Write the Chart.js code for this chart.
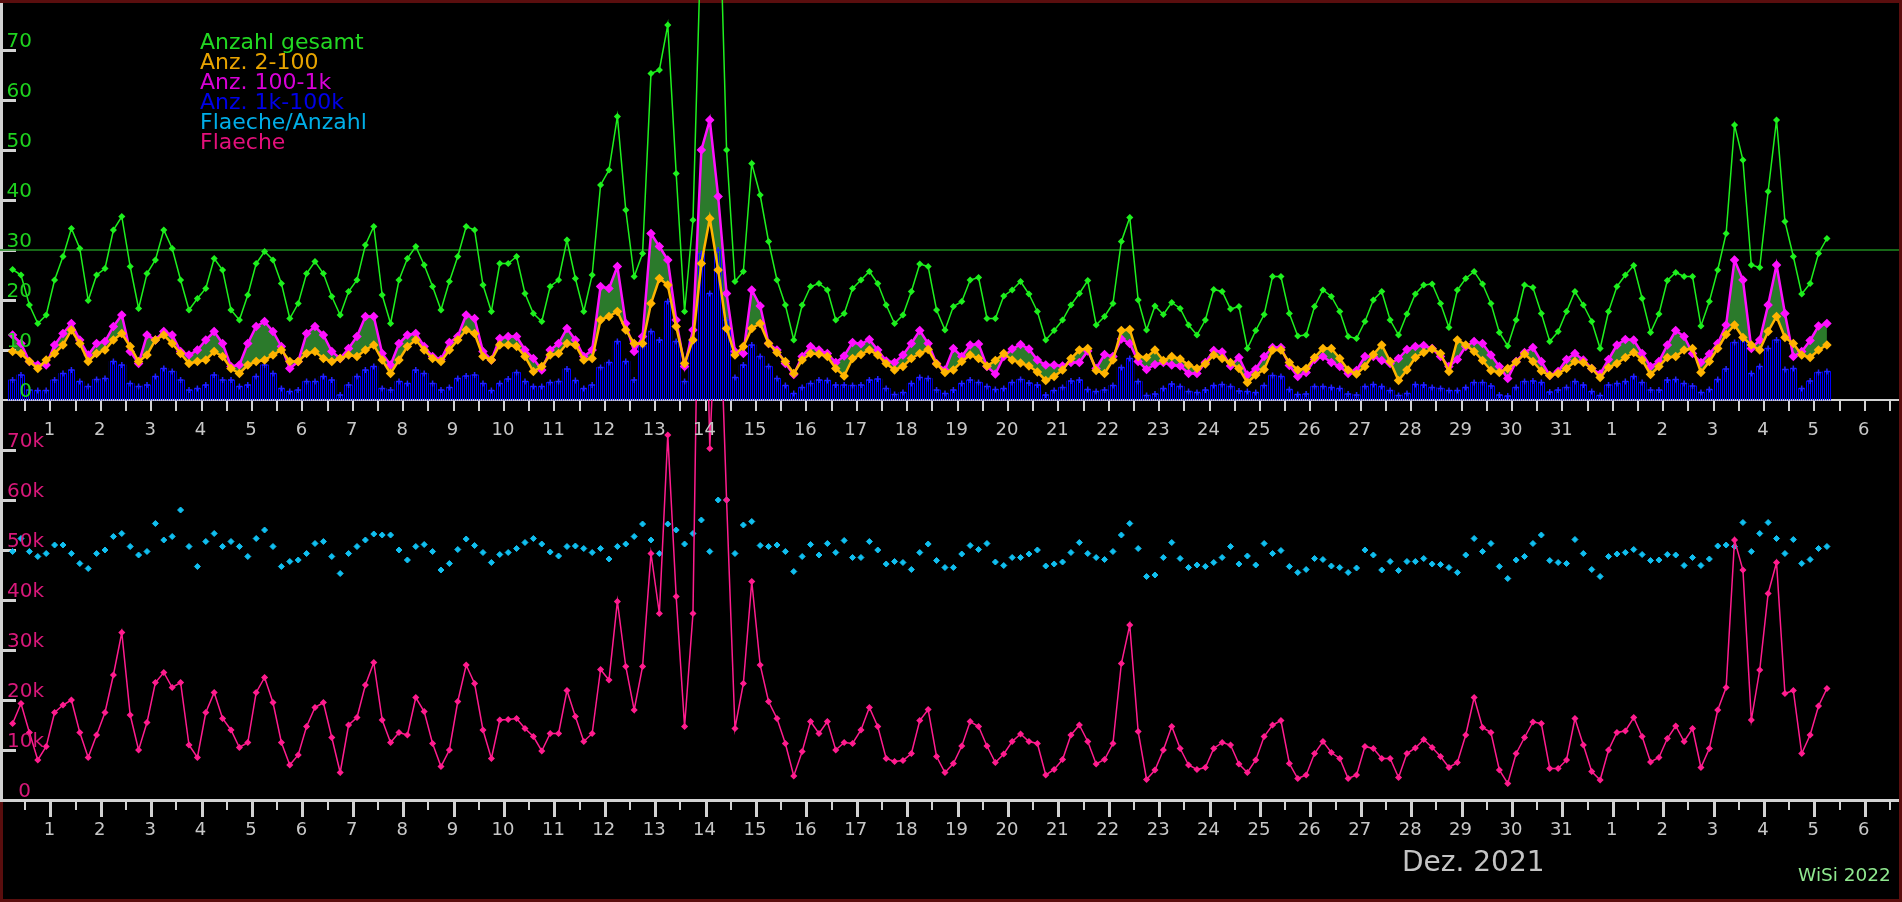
<!DOCTYPE html>
<html>
<head>
<meta charset="utf-8">
<title>Anzahl / Flaeche Dez. 2021</title>
<script src="https://cdn.jsdelivr.net/npm/chart.js@4.4.1/dist/chart.umd.min.js"></script>
<style>
    html, body { margin: 0; padding: 0; background: #000; }
    #wrap { position: relative; width: 1902px; height: 902px; background: #000; overflow: hidden; }
    #wrap canvas { position: absolute; left: 0; top: 0; }
    .txt { position: absolute; font-family: "DejaVu Sans", sans-serif; font-weight: normal; white-space: nowrap; }
    #legend { left: 200px; top: 32px; font-size: 22px; line-height: 20px; }
    #month { left: 1402px; top: 847px; font-size: 28px; line-height: 30px; color: #c4c4c4; }
    #sig { left: 1798px; top: 865px; font-size: 18.5px; line-height: 20px; color: #8fe88f; }
</style>
</head>
<body>
<div id="wrap">
    <canvas id="chart"></canvas>
    <div id="legend" class="txt">
        <div style="color:#22d822">Anzahl gesamt</div>
        <div style="color:#e8a400">Anz. 2-100</div>
        <div style="color:#d800d8">Anz. 100-1k</div>
        <div style="color:#0000e8">Anz. 1k-100k</div>
        <div style="color:#00aee6">Flaeche/Anzahl</div>
        <div style="color:#e4107a">Flaeche</div>
    </div>
    <div id="month" class="txt">Dez. 2021</div>
    <div id="sig" class="txt">WiSi 2022</div>
</div>
<script>
// samples every 4 hours, x in days (label "1" = 1. Dez.)
const T0 = 0.25;
const STEP = 1 / 6;
const X_MAX = 37.68;
const REF_LINE = 30;

const dayLabels = ['1','2','3','4','5','6','7','8','9','10','11','12','13','14','15','16','17','18','19','20',
    '21','22','23','24','25','26','27','28','29','30','31','1','2','3','4','5','6'];
const topTicks = [0, 10, 20, 30, 40, 50, 60, 70];
const bottomTicks = [0, 10, 20, 30, 40, 50, 60, 70];   // thousands

const anzGesamt = [
    26.1, 25, 19, 15.3, 17, 24, 28.7, 34.3, 30.3, 19.9, 25, 26.3, 34, 36.7, 26.7, 18.3, 25.3, 28, 34, 30.3,
    24, 18, 20.3, 22.3, 28.3, 26, 18, 16, 21, 27.3, 29.7, 28, 23.3, 16.3, 19.3, 25.3, 27.7, 25.3, 20.7, 17,
    21.7, 24, 31, 34.7, 21, 15.3, 24, 28.3, 30.7,
    27, 22.7, 18, 23.7, 28.7, 34.7, 34, 23, 17.7, 27.3, 27.3, 28.7, 21.3, 17.3, 15.7, 22.7, 24, 32, 24.3, 17.7,
    25, 43, 46, 56.7, 38, 24.7, 29.3, 65.3, 66, 75, 45.3, 17.7, 36, 95, 115, 109, 50, 23.7, 25.7, 47.3,
    41, 31.7, 24, 19, 12, 19, 22.7, 23.3, 22, 16, 17.3, 22.3, 24, 25.7, 23.3, 19, 15.3, 17,
    21.7, 27.2, 26.7, 18, 14, 18.7, 19.7, 24, 24.5, 16.3, 16.3, 20.8, 22, 23.7, 21.2, 17.7, 12, 13.9, 16, 19,
    21.3, 23.9, 15, 16.7, 19.3, 31.7, 36.5, 20, 14, 18.8, 17.1, 19.5, 18.3, 15, 13, 16, 22.1, 21.7, 18.2, 18.7,
    10.3, 13.9, 17.1, 24.7, 24.7, 17.3, 12.8, 13, 18.7, 22, 20.7, 17.7, 12.7, 12.3, 15.7, 20, 21.7, 16, 13,
    17.2, 21.2, 23, 23.2, 19.3, 14.5, 22, 24.3, 25.7, 23.2, 19.3, 13.5, 10.8, 16, 23, 22.5, 17.3, 11.7, 13.7, 17.7,
    21.7, 19, 15.7, 10.3, 17.7, 22.7, 25, 26.9, 20.3, 13.5, 17.2, 23.9, 25.5, 24.7, 24.7, 14.8, 19.7, 26, 33.3, 55,
    48, 27, 26.5, 41.7, 56, 35.7, 28.7, 21.2, 23.3, 29.3, 32.3
];
const anz2bis100 = [
    9.7, 9.3, 7.7, 6.3, 8, 9.3, 11, 14, 11.3, 7.7, 9.3, 10, 12, 13.3, 10.7, 7.7, 9, 12, 13, 11.3,
    9.3, 7.3, 7.7, 8, 9.7, 8.7, 6.3, 5.3, 7, 7.7, 8, 9, 10, 7.7, 7.7, 9.3, 9.7, 8.3, 7.7, 8.3,
    9, 8.7, 10, 11, 8, 5.3, 8, 10.7, 12,
    10, 8.3, 7.7, 10, 12, 14, 13.3, 8.7, 8, 11, 11, 10.7, 8.7, 5.7, 6.7, 9, 9.3, 11.3, 11, 8,
    8.3, 16, 16.7, 17.7, 14, 11.3, 11.3, 19.3, 24.3, 23, 14.7, 7.3, 12, 27.3, 36.3, 26, 14.3, 9, 10.7, 14.3,
    15.3, 11.3, 9.5, 7.7, 5.3, 8, 9.3, 9.2, 8.7, 6.3, 4.8, 8.3, 9.1, 10, 9, 7.3, 6, 6.7,
    8.3, 9.3, 10.1, 7.2, 5.5, 6, 7.7, 9, 8.3, 6.8, 7.9, 9.3, 8, 7.4, 6.8, 5.6, 3.9, 4.7, 6, 8.3,
    10, 10.3, 5.9, 5.3, 8, 13.9, 14.1, 8.7, 8.5, 10, 7.9, 8.7, 8.2, 7, 6.3, 7.2, 9, 8.3, 7.5, 6.3,
    3.5, 5, 6.1, 10, 10, 7.5, 6, 6.3, 8.5, 10.3, 10.3, 8.3, 6, 5.2, 6.7, 9.1, 11, 7.7, 3.9,
    6, 8.5, 9.5, 10.2, 9.3, 5.7, 12, 11, 9.7, 7.9, 5.9, 5.5, 6.3, 7.6, 9.2, 7.7, 5.8, 4.9, 5.3, 6.3,
    7.7, 7.5, 6.3, 4.5, 6.5, 7.3, 8.5, 9.5, 8, 5.1, 6.7, 8.5, 8.7, 10, 10.3, 5.5, 7.7, 10.3, 13.1, 15,
    12.5, 11, 10, 13.7, 16.7, 12.5, 11.3, 9, 8.5, 10, 11
];
const anz100bis1k = [
    13, 11.3, 7.7, 7, 7, 11, 13.3, 15.3, 12, 9, 11.3, 11.7, 14.7, 17, 9.7, 7.3, 13, 12, 13.7, 13,
    9.7, 9, 10, 12, 13.7, 11.3, 6.7, 7, 11.3, 14.7, 15.7, 13.7, 10.7, 6.3, 7.7, 13.3, 14.7, 13, 9.7, 8.3,
    10.3, 12.7, 16.7, 16.7, 9.3, 7, 11.3, 13, 13.3,
    10.7, 8.7, 8.1, 11.5, 12.7, 17, 16.3, 9.7, 8, 12.3, 12.7, 12.7, 10, 8.3, 6, 10, 11.3, 14.3, 12, 8.7,
    10, 22.7, 22.3, 26.7, 15.3, 9.7, 12.7, 33.3, 30.7, 28, 16, 6.7, 14, 50, 56, 40.7, 21.3, 9.7, 9.3, 22,
    18.8, 11.3, 10, 7.3, 5.1, 8.7, 10.7, 10, 9.3, 7.5, 8.8, 11.5, 11.2, 12.1, 10, 7.8, 7.5, 9,
    11.3, 13.9, 11.3, 7.3, 6, 10.3, 8.7, 11, 11.2, 6.7, 5.2, 8.7, 10.2, 11.1, 10.2, 8, 7, 7, 6.8, 7.5,
    7.5, 9.8, 6.3, 9.1, 8.7, 12.2, 11.3, 7.7, 6.1, 7.1, 7.5, 7, 6.8, 5.3, 5.3, 7.5, 9.9, 9.6, 6.8, 8.5,
    5, 6.2, 8.7, 10.5, 10.5, 6.9, 4.7, 5.5, 8.1, 8.7, 7.5, 6.7, 5.3, 5.9, 8.7, 8.7, 7.9, 7.3, 8.3,
    10.1, 10.7, 10.9, 10.3, 8.7, 6.7, 8.1, 10.7, 11.7, 11.3, 9, 6.7, 4.3, 7.7, 9.5, 10.5, 7.7, 4.9, 5.7, 8.1,
    9.3, 8, 6.3, 5.2, 8.1, 11, 12.1, 12, 9.3, 6.7, 7.7, 11, 13.9, 12.7, 9.3, 7.5, 9.2, 11.3, 15, 28,
    24, 10.3, 12, 19, 27, 17.3, 8.7, 9.7, 11.9, 14.8, 15.3
];
const anz1kbis100k = [
    4, 5, 2, 1.9, 1.9, 4, 5.3, 6, 3.7, 2.7, 4.1, 4.3, 7.7, 7, 3.3, 2.7, 3, 4.7, 6.3, 5.7,
    4, 2, 2.3, 3, 5, 4, 4, 2.7, 3, 4.7, 7, 5.3, 2.3, 1.7, 2, 3.7, 3.7, 4.7, 4, 1,
    3, 4.7, 6, 6.7, 2.3, 2, 3.7, 3.3, 6,
    5.3, 3.3, 2, 2.5, 4.3, 4.8, 5, 3.3, 1.9, 3.3, 4.2, 5.5, 3.7, 2.7, 2.7, 3.5, 3.7, 6.2, 3.9, 2.3,
    3, 6.5, 7.5, 11.7, 7.7, 4, 10.7, 13.7, 12, 19.7, 11.7, 3.7, 12, 29.3, 21.3, 30, 16, 4.5, 7, 11,
    8.7, 6.7, 4.3, 2.9, 1.3, 2.5, 3.3, 4, 3.9, 3, 3, 2.9, 3, 4, 4.2, 2.3, 1.1, 1.5,
    3.3, 4.5, 4.3, 2, 1.3, 2, 3.3, 4, 3.5, 2.7, 2.1, 2.3, 3.5, 4.1, 3.4, 3, 1, 1.9, 2.5, 3.8,
    4, 2.1, 1.7, 2, 2.9, 6.5, 8.3, 3.7, 0.9, 1.2, 2.3, 3.2, 2.7, 1.7, 1.5, 2, 2.9, 3.1, 2.7, 1.8,
    1.7, 1.5, 2.9, 4.9, 4.7, 2.1, 1.1, 1.2, 2.7, 2.7, 2.5, 2.3, 1.2, 1, 2.7, 3.1, 2.7, 1.9, 0.9,
    1.3, 3.1, 3, 2.5, 2.3, 1.9, 1.9, 2.5, 3.5, 3.5, 2.8, 1, 0.8, 2.5, 3.7, 3.8, 3.5, 1.6, 2, 2.5,
    3.7, 3, 1.7, 0.9, 3, 3.3, 3.7, 4.7, 3.5, 2, 2, 4, 4.1, 3.3, 2.8, 1.5, 2.1, 4.1, 6.2, 11.5,
    12, 5.3, 6.7, 10.3, 12, 6.1, 6.3, 2.3, 3.8, 5.5, 5.7
];
// Flaeche/Anzahl and Flaeche, in thousands
const flaecheProAnzahlK = [
    49.7, 52.3, 49.7, 48.7, 49.3, 51, 51, 49.3, 47.3, 46.3, 49.3, 50, 52.7, 53.3, 50.7, 49, 49.7, 55.3, 52, 52.7,
    58, 50.7, 46.7, 51.7, 53.3, 50.7, 51.7, 50.7, 48.7, 52.3, 54, 50.7, 46.7, 47.7, 48, 49.3, 51.3, 51.7, 48.7, 45.3,
    49.3, 50.7, 52, 53.2, 53, 53, 50, 48, 50.7,
    51.1, 49.7, 46, 47.3, 50.1, 52.2, 50.9, 49.5, 47.5, 49.1, 49.5, 50.3, 51.5, 52.3, 51.2, 49.6, 48.8, 50.7, 50.8, 50.3,
    49.5, 50.3, 48.2, 50.7, 51.2, 52.7, 55.2, 52, 49.3, 55.2, 54, 51.2, 53.3, 56, 49.7, 60, 60, 49.3, 55, 55.7,
    50.9, 50.7, 51, 49.7, 45.7, 48.7, 51.1, 49, 51.3, 49.5, 51.9, 48.5, 48.5, 51.7, 50, 47.2, 47.7, 47.5,
    46.1, 49.5, 51.2, 47.9, 46.5, 46.5, 49.2, 50.9, 50.1, 51.3, 47.6, 46.9, 48.5, 48.5, 49.2, 50, 46.8, 47.2, 47.6, 49.5,
    51.5, 49.3, 48.5, 48.1, 49.7, 53, 55.3, 50.3, 44.7, 45, 48.5, 51.5, 48.3, 46.5, 47, 46.7, 47.5, 48.5, 50.7, 47.2,
    48.8, 47, 51.3, 49.3, 49.9, 46.7, 45.5, 46.1, 48.3, 48.1, 46.8, 46.5, 45.5, 46.4, 50, 49, 46, 47.7, 45.9,
    47.7, 47.7, 48.3, 47.2, 47.1, 46.5, 45.5, 49, 52.3, 49.7, 51.3, 46.7, 44.3, 48, 48.7, 51.3, 53, 47.9, 47.5, 47.3,
    52.1, 49.3, 46.1, 44.7, 48.7, 49.2, 49.5, 50.1, 49.1, 47.9, 48, 49.1, 49, 46.9, 48.5, 46.9, 48.2, 50.8, 51, 50.7,
    55.5, 49.7, 53.3, 55.5, 52.3, 49.3, 52.1, 47.3, 48.1, 50.3, 50.7
];
const flaecheK = [
    15.3, 19.3, 13.5, 8, 10.7, 17.5, 19, 20, 13.5, 8.5, 13, 17.5, 25, 33.5, 17, 10, 15.5, 23.5, 25.5, 22.5,
    23.5, 11, 8.5, 17.5, 21.5, 16.3, 14, 10.5, 11.5, 21.5, 24.5, 19.5, 11.5, 7, 9, 14.7, 18.5, 19.5, 12.5, 5.5,
    15, 16.5, 23, 27.5, 16, 11.5, 13.5, 13, 20.5,
    17.7, 11.3, 6.7, 10, 19.7, 27, 23.3, 14, 8.3, 16, 16.1, 16.3, 14.3, 12.7, 9.8, 13.3, 13.3, 21.9, 16.7, 11.7,
    13.3, 26.1, 24, 39.7, 26.7, 18, 26.7, 49.3, 37.3, 73, 40.7, 14.7, 37.3, 150, 70.3, 110, 60, 14.3, 23.3, 43.7,
    27, 19.7, 16.3, 11.3, 4.8, 9.7, 15.7, 13.3, 15.7, 10, 11.5, 11.3, 14, 18.5, 14.7, 8.3, 7.7, 7.9,
    9.3, 15.9, 18.1, 8.7, 5.5, 7.3, 10.8, 15.7, 14.7, 10.8, 7.5, 9.2, 11.7, 13.2, 11.7, 11.3, 5, 6.1, 8.1, 13,
    15, 11.7, 7.2, 8.1, 11.3, 27.3, 35, 13.7, 4.1, 6, 10, 14.7, 10.3, 7, 6.1, 6.5, 10.3, 11.5, 11, 7.2,
    5.5, 8, 12.7, 15, 15.9, 7.3, 4.3, 5, 9.3, 11.7, 9.5, 8.3, 4.3, 5, 10.7, 10.3, 8.3, 8.3, 4.5,
    9.3, 10.4, 12.1, 10.5, 8.7, 6.5, 7.5, 13, 20.5, 14.5, 13.5, 6, 3.3, 9.3, 12.5, 15.6, 15.3, 6.3, 6.3, 8,
    16.3, 11, 5.7, 4, 10, 13.5, 13.8, 16.5, 12.7, 7.6, 8.5, 12.3, 14.8, 11.7, 14.3, 6.5, 10.3, 18, 22.5, 52,
    46, 16, 26, 41.3, 47.5, 21.3, 21.9, 9.3, 13, 18.8, 22.3
];

document.addEventListener('DOMContentLoaded', () => {
    const times = anzGesamt.map((_, i) => T0 + i * STEP);
    const xy = vals => vals.map((v, i) => ({ x: times[i], y: v }));

    const canvas = document.getElementById('chart');
    const ctx = canvas.getContext('2d');

    // 1px blue / 1px empty stripes, like the dense hourly bars of the original
    const tile = document.createElement('canvas');
    tile.width = 2; tile.height = 1;
    const tctx = tile.getContext('2d');
    tctx.fillStyle = '#0000ff';
    tctx.fillRect(0, 0, 1, 1);
    const stripes = ctx.createPattern(tile, 'repeat');

    const AXIS = '#d2d2d2';
    const FONT = '"DejaVu Sans", sans-serif';

    // axes, ticks and tick labels of both panels, drawn from the chart's scales
    const panelAxes = {
        id: 'panelAxes',
        beforeDatasetsDraw(chart) {
            const { ctx: c, scales: { x, yTop, yBot } } = chart;
            const W = chart.width, H = chart.height;
            const yMid = yTop.getPixelForValue(0);
            const yLow = yBot.getPixelForValue(0);
            c.save();
            // dark red frame
            c.fillStyle = '#5a0e0e';
            c.fillRect(0, 0, W, 3);
            c.fillRect(0, H - 3, W, 3);
            c.fillRect(W - 3, 0, 3, H);
            c.fillRect(0, yLow, 3, H - yLow);

            c.fillStyle = AXIS;
            c.fillRect(0, 3, 3, yLow - 3);               // left axis
            c.fillRect(0, yMid - 1, W - 3, 2);           // axis between panels
            c.fillRect(0, yLow - 1, W - 3, 3);           // bottom axis

            for (let v = 0.5; v <= X_MAX; v += 0.5) {
                const px = Math.round(x.getPixelForValue(v));
                c.fillRect(px - 1, yMid + 1, 2, 10);
                if (Number.isInteger(v)) c.fillRect(px - 1, yLow + 1, 3, 16);
                else c.fillRect(px - 1, yLow + 1, 2, 9);
            }
            topTicks.slice(1).forEach(v => c.fillRect(3, Math.round(yTop.getPixelForValue(v)) - 1, 13, 3));
            bottomTicks.slice(1).forEach(v => c.fillRect(3, Math.round(yBot.getPixelForValue(v)) - 1, 13, 3));
            c.restore();
        },
        afterDatasetsDraw(chart) {
            const { ctx: c, scales: { x, yTop, yBot } } = chart;
            const yMid = yTop.getPixelForValue(0);
            const yLow = yBot.getPixelForValue(0);
            c.save();
            c.textBaseline = 'alphabetic';

            // day labels under both axes
            c.font = '18px ' + FONT;
            c.fillStyle = '#c8c8c8';
            c.textAlign = 'center';
            dayLabels.forEach((lab, i) => {
                const px = x.getPixelForValue(i + 1) - 1;
                c.fillText(lab, px, yMid + 35);
                c.fillText(lab, px, yLow + 35);
            });

            c.font = '20px ' + FONT;
            c.fillStyle = '#1ed21e';
            c.textAlign = 'right';
            topTicks.forEach(v => c.fillText(String(v), 32, yTop.getPixelForValue(v) - 3));

            c.fillStyle = '#d8187a';
            bottomTicks.forEach(v => {
                const py = yBot.getPixelForValue(v) - 3;
                if (v === 0) { c.textAlign = 'right'; c.fillText('0', 31, py); }
                else { c.textAlign = 'left'; c.fillText(v + 'k', 7, py); }
            });
            c.restore();
        }
    };

    new Chart(canvas, {
        type: 'line',
        data: {
            datasets: [
                {
                    // reference line
                    data: [{ x: 0, y: REF_LINE }, { x: X_MAX, y: REF_LINE }],
                    yAxisID: 'yTop',
                    borderColor: '#1f8a1f',
                    borderWidth: 1.5,
                    pointRadius: 0,
                    order: 9
                },
                {
                    label: 'Anzahl gesamt',
                    data: xy(anzGesamt),
                    yAxisID: 'yTop',
                    borderColor: '#1ef01e',
                    borderWidth: 1.5,
                    pointStyle: 'rectRot',
                    pointRadius: 2.5,
                    pointBackgroundColor: '#1ef01e',
                    pointBorderColor: '#1ef01e',
                    order: 2
                },
                {
                    label: 'Anz. 2-100',
                    data: xy(anz2bis100),
                    yAxisID: 'yTop',
                    borderColor: '#ffb400',
                    borderWidth: 2.5,
                    pointStyle: 'rectRot',
                    pointRadius: 3,
                    pointBackgroundColor: '#ffb400',
                    pointBorderColor: '#ffb400',
                    order: 3
                },
                {
                    label: 'Anz. 100-1k',
                    data: xy(anz100bis1k),
                    yAxisID: 'yTop',
                    borderColor: '#ff10ff',
                    backgroundColor: '#2b7a2b',   // band between 2-100 and 100-1k
                    fill: '-1',
                    borderWidth: 2.5,
                    pointStyle: 'rectRot',
                    pointRadius: 3,
                    pointBackgroundColor: '#ff10ff',
                    pointBorderColor: '#ff10ff',
                    order: 4
                },
                {
                    type: 'bar',
                    label: 'Anz. 1k-100k',
                    data: xy(anz1kbis100k),
                    yAxisID: 'yTop',
                    backgroundColor: stripes,
                    borderWidth: 0,
                    barPercentage: 1,
                    categoryPercentage: 1,
                    grouped: false,
                    order: 8
                },
                {
                    data: xy(anz1kbis100k),
                    yAxisID: 'yTop',
                    showLine: false,
                    pointStyle: 'cross',
                    pointRadius: 3,
                    pointBorderWidth: 1.5,
                    pointBorderColor: '#2222ff',
                    order: 7
                },
                {
                    label: 'Flaeche/Anzahl',
                    data: xy(flaecheProAnzahlK),
                    yAxisID: 'yBot',
                    showLine: false,
                    pointStyle: 'rectRot',
                    pointRadius: 3,
                    pointBackgroundColor: '#10bff0',
                    pointBorderColor: '#10bff0',
                    order: 1
                },
                {
                    label: 'Flaeche',
                    data: xy(flaecheK),
                    yAxisID: 'yBot',
                    borderColor: '#ff1c8e',
                    borderWidth: 1.5,
                    pointStyle: 'rectRot',
                    pointRadius: 2.5,
                    pointBackgroundColor: '#ff1c8e',
                    pointBorderColor: '#ff1c8e',
                    clip: { left: 5, top: -400, right: 5, bottom: 5 },
                    order: 0
                }
            ]
        },
        options: {
            responsive: true,
            maintainAspectRatio: false,
            devicePixelRatio: 1,
            animation: false,
            events: [],
            layout: { autoPadding: false, padding: { left: 0, right: 3, top: 0, bottom: 102 } },
            elements: { line: { tension: 0 } },
            plugins: {
                legend: { display: false },
                tooltip: { enabled: false },
                filler: { drawTime: 'beforeDatasetsDraw' }
            },
            scales: {
                x: { type: 'linear', min: 0, max: X_MAX, offset: false, grid: { offset: false }, display: false },
                yTop: { type: 'linear', min: -80, max: 80, display: false },
                yBot: { type: 'linear', min: 0, max: 160, display: false }
            }
        },
        plugins: [panelAxes]
    });
});
</script>
</body>
</html>
